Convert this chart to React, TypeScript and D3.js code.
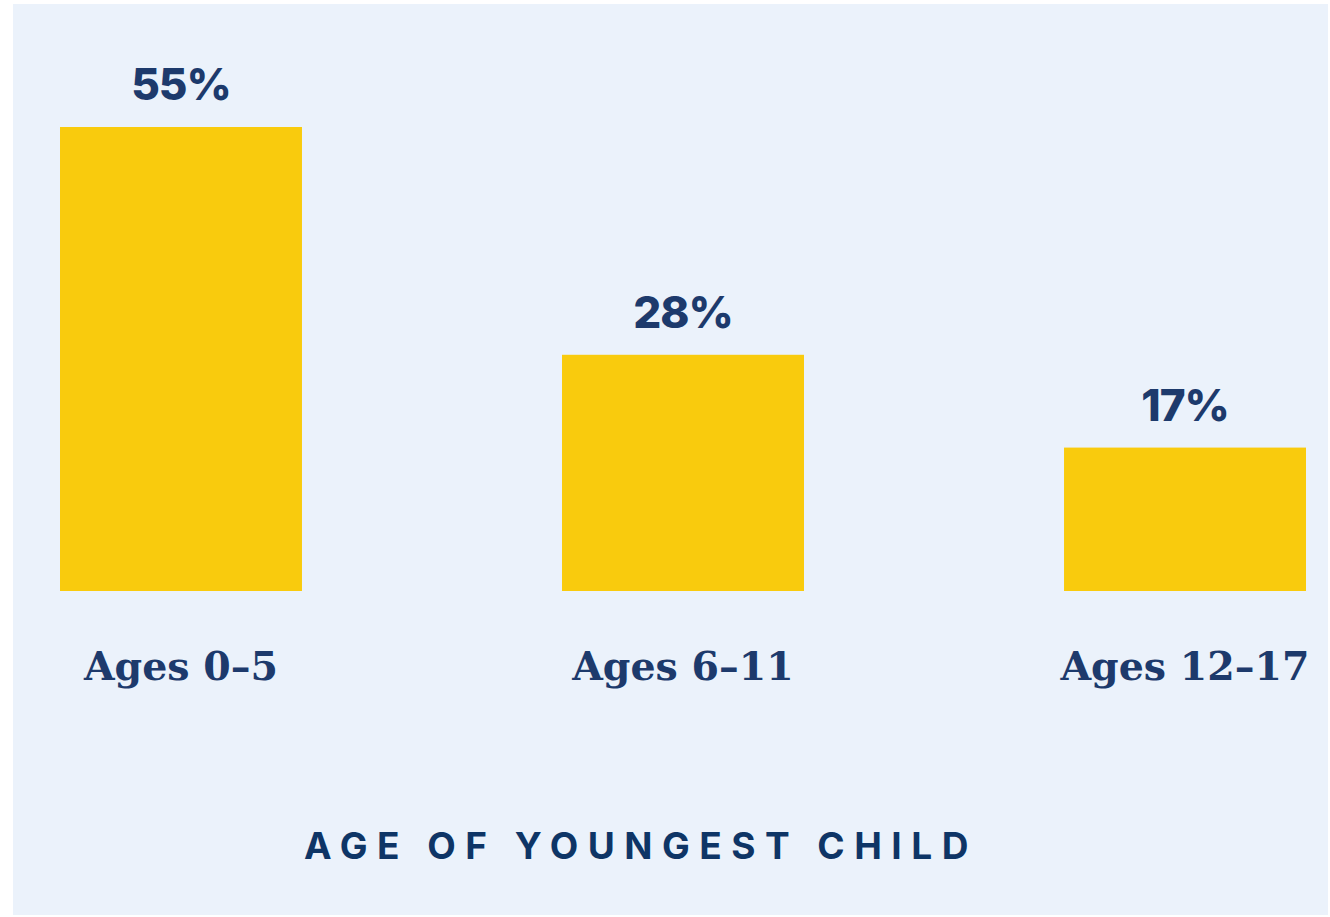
import { useRef, useEffect } from "react";
import * as d3 from "d3";

const CATEGORIES = ["Ages 0–5", "Ages 6–11", "Ages 12–17"];
const VALUES = [55, 28, 17];
const AXIS_TITLE = "AGE OF YOUNGEST CHILD";

const W = 1330;
const H = 917;

export default function App() {
  const svgRef = useRef<SVGSVGElement>(null);

  useEffect(() => {
    if (!svgRef.current) return;
    const svg = d3.select(svgRef.current);
    svg.selectAll("*").remove();

    const navy = "#1D3A6C";

    // panel background
    svg.append("rect").attr("x", 13).attr("y", 4).attr("width", W - 15).attr("height", H - 6)
      .attr("fill", "#EBF2FB");

    const x = d3.scaleBand<string>().domain(CATEGORIES).range([60, 1306]).paddingInner(0.518).paddingOuter(0);
    const y = d3.scaleLinear().domain([0, 55]).range([591, 127]);

    const data = CATEGORIES.map((c, i) => ({ cat: c, value: VALUES[i] }));

    svg.selectAll(".bar").data(data).enter().append("rect")
      .attr("class", "bar")
      .attr("x", (d) => x(d.cat)!)
      .attr("y", (d) => y(d.value))
      .attr("width", x.bandwidth())
      .attr("height", (d) => y(0) - y(d.value))
      .attr("fill", "#F9CB0D");

    // value labels
    svg.selectAll(".val").data(data).enter().append("text")
      .attr("x", (d) => x(d.cat)! + x.bandwidth() / 2)
      .attr("y", (d) => y(d.value) - 27)
      .attr("text-anchor", "middle")
      .style("font-family", "Inter, 'Open Sans', sans-serif")
      .style("font-weight", "800")
      .style("font-size", "44px")
      .style("letter-spacing", "-1px")
      .style("fill", navy)
      .text((d) => `${d.value}%`);

    // category labels
    svg.selectAll(".cat").data(data).enter().append("text")
      .attr("x", (d) => x(d.cat)! + x.bandwidth() / 2)
      .attr("y", 680)
      .attr("text-anchor", "middle")
      .style("font-family", "'DejaVu Serif', serif")
      .style("font-weight", "700")
      .style("font-size", "39.5px")
      .style("fill", navy)
      .text((d) => d.cat);

    // axis title (x nudged to offset trailing letter-spacing)
    svg.append("text")
      .attr("x", 641)
      .attr("y", 859)
      .attr("text-anchor", "middle")
      .style("font-family", "Inter, sans-serif")
      .style("font-weight", "700")
      .style("font-size", "37px")
      .style("letter-spacing", "9.5px")
      .style("fill", "#0E3566")
      .text(AXIS_TITLE);

    return () => {
      svg.selectAll("*").remove();
    };
  }, []);

  return (
    <div style={{ position: "fixed", left: 0, top: 0, width: W, height: H, background: "#fff" }}>
      <svg ref={svgRef} width={W} height={H} style={{ display: "block" }} />
    </div>
  );
}
